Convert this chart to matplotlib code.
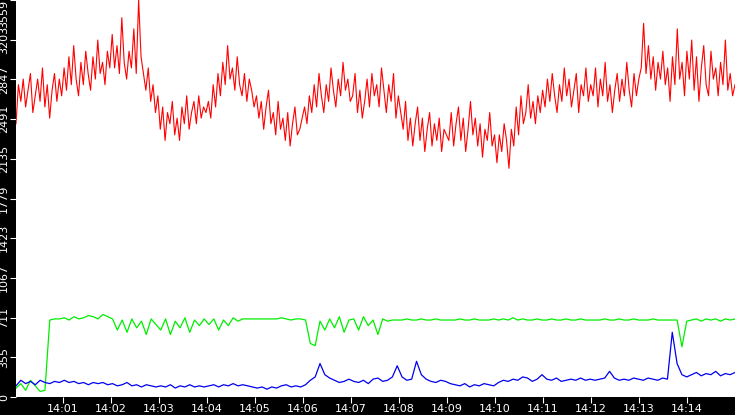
import numpy as np
import matplotlib
matplotlib.use("Agg")
import matplotlib.pyplot as plt

# red series, 20 samples per minute, 14:00 -> 14:15
red = [2450,2800,2650,2850,2600,2750,2900,2550,2700,2850,2650,2950,2600,2800,2500,2750,2900,2650,2850,2700,
       2950,2750,3050,2800,3150,2850,2700,3000,2800,3100,2900,2750,3050,2850,3200,2900,3000,2800,3100,2950,
       3250,2950,3150,2900,3400,3000,2850,3100,2950,3300,2900,3559,3050,2900,2750,2950,2650,2800,2550,2700,
       2400,2600,2300,2550,2450,2650,2350,2500,2300,2600,2450,2700,2400,2550,2650,2450,2700,2500,2600,2550,
       2650,2500,2800,2600,2900,2700,3000,2800,3150,2850,2950,2750,3050,2800,2700,2900,2650,2850,2750,2600,
       2700,2500,2650,2400,2600,2750,2450,2550,2350,2650,2400,2500,2300,2550,2250,2450,2600,2350,2400,2500,
       2600,2450,2700,2550,2800,2600,2900,2700,2550,2800,2650,2950,2750,2600,2850,2700,3000,2750,2850,2650,
       2700,2900,2550,2750,2500,2650,2850,2600,2900,2700,2800,2600,2950,2750,2550,2800,2650,2900,2500,2700,
       2550,2400,2650,2300,2500,2250,2450,2600,2300,2500,2200,2400,2550,2250,2450,2300,2500,2200,2400,2350,
       2300,2550,2250,2450,2600,2300,2500,2200,2400,2650,2350,2500,2250,2450,2150,2400,2300,2550,2250,2350,
       2100,2350,2200,2450,2300,2050,2400,2250,2600,2350,2700,2450,2550,2800,2500,2650,2450,2700,2550,2750,
       2600,2850,2650,2900,2700,2550,2800,2650,2950,2700,2850,2600,2750,2900,2550,2800,2700,2950,2650,2800,
       2700,2950,2600,2850,2700,3000,2650,2800,2550,2750,2900,2650,2850,2700,3000,2750,2600,2900,2700,2850,
       2950,3350,2900,3150,2850,3050,2750,3000,2850,3100,2800,2950,2650,3050,2800,3300,2850,3000,2700,3100,
       2850,3200,2750,3050,2650,2950,3150,2800,2700,3100,2850,2950,2700,3000,2800,3200,2750,2900,2700,2800]

green = [80,120,60,150,100,50,60,690,700,700,
         710,690,720,700,710,730,720,700,740,720,
         700,600,690,580,700,620,680,560,700,650,
         600,700,560,680,620,710,580,690,640,700,
         650,700,600,690,640,710,680,700,700,700,
         700,700,700,700,700,710,700,690,700,700,
         690,480,460,680,600,700,620,720,580,690,
         700,600,720,640,690,560,700,680,690,690,
         690,700,690,690,700,690,690,700,690,690,
         690,690,700,690,690,700,690,690,690,700,
         690,700,690,710,690,700,690,690,700,690,
         690,700,690,690,700,690,690,700,690,690,
         690,690,700,690,690,700,690,690,700,690,
         690,690,700,690,690,690,690,690,450,680,
         690,700,680,700,690,700,680,700,690,700]

blue = [100,150,120,140,110,150,130,120,140,130,
        150,130,140,120,130,110,130,120,130,110,
        120,100,110,130,100,110,90,110,100,90,
        100,90,110,80,100,90,110,90,100,90,
        100,110,90,110,100,120,100,110,100,90,
        80,90,70,90,80,100,110,90,100,90,
        110,150,180,300,200,170,150,130,140,160,
        140,130,150,120,160,170,140,150,180,280,
        180,150,160,320,200,160,140,130,150,140,
        120,110,100,120,90,110,100,120,110,100,
        130,150,140,160,150,180,170,140,160,200,
        160,150,170,140,150,160,150,170,150,160,
        150,160,170,230,170,150,160,150,170,160,
        150,170,160,150,170,160,580,300,200,180,
        200,220,190,210,200,230,190,210,200,220]

y_ticks = [0, 355, 711, 1067, 1423, 1779, 2135, 2491, 2847, 3203, 3559]
x_ticks = list(range(1, 15))
x_labels = ["14:%02d" % m for m in x_ticks]

fig = plt.figure(figsize=(7.35, 4.15), dpi=100, facecolor="black")
ax = fig.add_axes([16/735, 18/415, 719/735, 397/415])
ax.set_facecolor("white")
ax.plot(np.linspace(0.02, 15, len(red)), red, color="#ff0000", lw=0.8)
ax.plot(np.linspace(0.02, 15, len(green)), green, color="#00ee00", lw=0.9)
ax.plot(np.linspace(0.02, 15, len(blue)), blue, color="#0000ee", lw=0.9)
ax.set_xlim(0.02, 15)
ax.set_ylim(0, 3559)
ax.set_yticks(y_ticks)
ax.set_yticklabels([str(v) for v in y_ticks], rotation=90, va="center")
ax.get_yticklabels()[-1].set_va("top")
ax.set_xticks(x_ticks)
ax.set_xticklabels(x_labels)
ax.tick_params(colors="white", labelsize=8, length=4, pad=1)
for s in ax.spines.values():
    s.set_visible(False)
fig.savefig("out.png", facecolor="black")
